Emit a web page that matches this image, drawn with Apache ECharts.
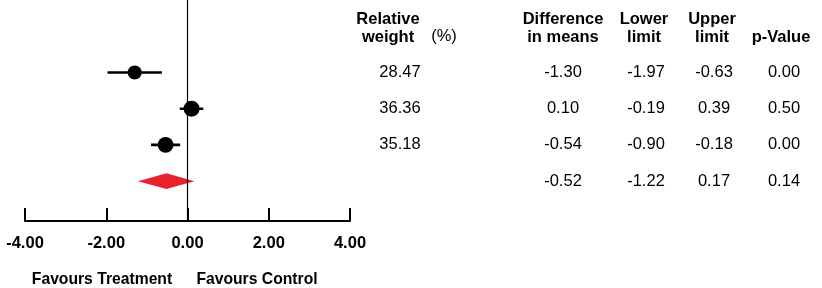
<!DOCTYPE html>
<html>
<head>
<meta charset="utf-8">
<script src="https://cdn.jsdelivr.net/npm/echarts@6/dist/echarts.min.js"></script>
<style>
  html, body { margin: 0; padding: 0; background: #fff; }
  #main { width: 822px; height: 288px; }
</style>
</head>
<body>
<div id="main"></div>
<script>
// study rows (1..3) and the summary row (4)
var studyRows = [1, 2, 3];
var weights = [28.47, 36.36, 35.18];
var diffMeans = [-1.30, 0.10, -0.54];
var lowerLimits = [-1.97, -0.19, -0.90];
var upperLimits = [-0.63, 0.39, -0.18];
var pValues = [0.00, 0.50, 0.00];

var summaryRow = 4;
var summaryStats = [-0.52, -1.22, 0.17, 0.14]; // mean, lower, upper, p

var xTicks = [-4, -2, 0, 2, 4];

var font = "'Liberation Sans', Arial, sans-serif";
var chart = echarts.init(document.getElementById('main'));

let series = [];
// error bars
studyRows.forEach(function (r, i) {
  series.push({
    type: 'line',
    data: [[lowerLimits[i], r], [upperLimits[i], r]],
    symbol: 'none',
    lineStyle: { color: '#000', width: 2.6 },
    silent: true,
    z: 3
  });
});
// point estimates
series.push({
  type: 'scatter',
  data: studyRows.map(function (r, i) { return [diffMeans[i], r, weights[i]]; }),
  symbol: 'circle',
  symbolSize: function (v) { return Math.sqrt(v[2]) * 2.65; },
  itemStyle: { color: '#000', opacity: 1 },
  z: 4
});
// summary diamond
series.push({
  type: 'custom',
  data: [[summaryStats[0], summaryRow, summaryStats[1], summaryStats[2]]],
  renderItem: function (params, api) {
    var m = api.value(0), r = api.value(1), lo = api.value(2), hi = api.value(3);
    var h = 0.22;
    return {
      type: 'polygon',
      shape: { points: [api.coord([lo, r]), api.coord([m, r - h]), api.coord([hi, r]), api.coord([m, r + h])] },
      style: { fill: '#e8222a' }
    };
  },
  z: 2
});
// zero line
series.push({
  type: 'line',
  data: [],
  markLine: {
    silent: true,
    symbol: 'none',
    label: { show: false },
    lineStyle: { color: '#000', width: 1.2, type: 'solid' },
    data: [{ xAxis: 0 }]
  },
  z: 1
});

chart.setOption({
  animation: false,
  grid: { left: 25, width: 325, top: 0, height: 221 },
  xAxis: {
    type: 'value',
    position: 'bottom',
    min: xTicks[0], max: xTicks[xTicks.length - 1], interval: xTicks[1] - xTicks[0],
    axisLine: { show: true, onZero: false, lineStyle: { color: '#000', width: 2 } },
    axisTick: { show: true, inside: true, length: 13, lineStyle: { color: '#000', width: 2 } },
    axisLabel: {
      margin: 14,
      color: '#000',
      fontFamily: font,
      fontWeight: 'bold',
      fontSize: 16.5,
      formatter: function (v) { return v.toFixed(2); }
    },
    splitLine: { show: false }
  },
  yAxis: {
    type: 'value',
    inverse: true,
    min: -1, max: 5.1,
    show: false,
    splitLine: { show: false }
  },
  series: series
});

// table text placed at the rows of the y scale
function rowY(r) { return chart.convertToPixel({ yAxisIndex: 0 }, r); }
let g = [];
function txt(x, y, s, bold, size) {
  g.push({
    type: 'text', x: x, y: y,
    style: {
      text: s, fill: '#000', font: (bold ? 'bold ' : '') + (size || 16.5) + 'px ' + font,
      align: 'center', verticalAlign: 'middle', lineHeight: 18
    }
  });
}
// headers
txt(388, 28, 'Relative\nweight', true);
txt(444, 36, '(%)', false);
txt(563, 28, 'Difference\nin means', true);
txt(644, 28, 'Lower\nlimit', true);
txt(712, 28, 'Upper\nlimit', true);
txt(781, 37, 'p-Value', true);

studyRows.forEach(function (r, i) {
  let y = rowY(r);
  txt(400, y, weights[i].toFixed(2), false);
  txt(563, y, diffMeans[i].toFixed(2), false);
  txt(646, y, lowerLimits[i].toFixed(2), false);
  txt(714, y, upperLimits[i].toFixed(2), false);
  txt(784, y, pValues[i].toFixed(2), false);
});
let ys = rowY(summaryRow);
txt(563, ys, summaryStats[0].toFixed(2), false);
txt(646, ys, summaryStats[1].toFixed(2), false);
txt(714, ys, summaryStats[2].toFixed(2), false);
txt(784, ys, summaryStats[3].toFixed(2), false);

// bottom captions
txt(102, 280, 'Favours Treatment', true, 15.7);
txt(257, 280, 'Favours Control', true, 15.7);

chart.setOption({ graphic: g });
</script>
</body>
</html>
